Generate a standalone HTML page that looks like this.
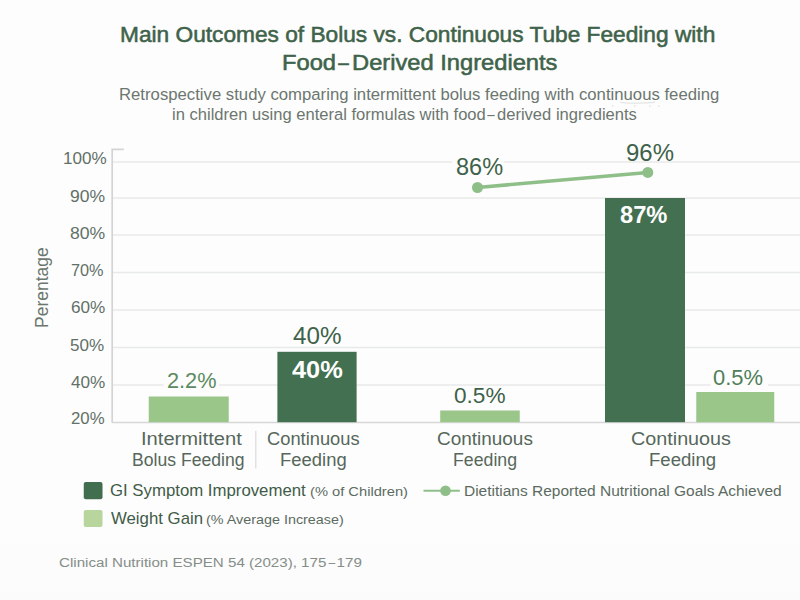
<!DOCTYPE html>
<html><head><meta charset="utf-8"><style>
html,body{margin:0;padding:0;}
body{width:800px;height:600px;overflow:hidden;position:relative;background:linear-gradient(to bottom,#fdfdfd 0%,#fdfdfd 85%,#fbfbfb 100%);font-family:"Liberation Sans",sans-serif;}
svg{position:absolute;left:0;top:0;}
.t{position:absolute;white-space:pre;line-height:1;transform-origin:0 0;}
.dash{display:inline-block;transform:scaleX(0.8);margin:0 0.06em}
</style></head><body>
<svg width="800" height="600" viewBox="0 0 800 600">
<line x1="113" y1="162" x2="800" y2="162" stroke="#e8e9e9" stroke-width="1.5"/>
<line x1="113" y1="198" x2="800" y2="198" stroke="#e8e9e9" stroke-width="1.5"/>
<line x1="113" y1="235" x2="800" y2="235" stroke="#e8e9e9" stroke-width="1.5"/>
<line x1="113" y1="272.5" x2="800" y2="272.5" stroke="#e8e9e9" stroke-width="1.5"/>
<line x1="113" y1="310" x2="800" y2="310" stroke="#e8e9e9" stroke-width="1.5"/>
<line x1="113" y1="347.5" x2="800" y2="347.5" stroke="#e8e9e9" stroke-width="1.5"/>
<line x1="113" y1="385" x2="800" y2="385" stroke="#e8e9e9" stroke-width="1.5"/>
<line x1="112" y1="422.5" x2="800" y2="422.5" stroke="#d6d7d6" stroke-width="1.6"/>
<path d="M123.8 149.3 H112.2 V423" fill="none" stroke="#d3d5d4" stroke-width="1.7"/>
<line x1="255.8" y1="431" x2="255.8" y2="468.5" stroke="#dcdedc" stroke-width="1.3"/>
<rect x="163.5" y="383" width="55.5" height="4" fill="#fdfdfc"/>
<rect x="452" y="160" width="52" height="4" fill="#fdfdfc"/>
<rect x="710.5" y="383" width="57.5" height="4" fill="#fdfdfc"/>
<rect x="148.75" y="396.5" width="80.0" height="25.69999999999999" fill="#9bc68a"/>
<rect x="277.4" y="351.8" width="79.20000000000005" height="70.39999999999998" fill="#427050"/>
<rect x="440.2" y="410.5" width="79.55000000000001" height="11.699999999999989" fill="#9bc68a"/>
<rect x="605" y="198" width="80" height="224.2" fill="#427050"/>
<rect x="696.25" y="392" width="78.0" height="30.19999999999999" fill="#9bc68a"/>
<line x1="477.5" y1="187.5" x2="647.8" y2="172.4" stroke="#8fbf88" stroke-width="3.5"/>
<circle cx="477.5" cy="187.5" r="5.5" fill="#8fbf88"/>
<circle cx="647.8" cy="172.4" r="5.5" fill="#8fbf88"/>
<path d="M620 102.3 Q637 104 655 102.4" fill="none" stroke="#d9dbd9" stroke-width="1.3" opacity="0.7"/>
<rect x="612" y="105.5" width="1.5" height="1" fill="#d8d8d8"/>
<rect x="634" y="105.5" width="1.5" height="1" fill="#d8d8d8"/>
<rect x="649" y="105.5" width="1.5" height="1" fill="#d8d8d8"/>
<rect x="658" y="105.5" width="1.5" height="1" fill="#d8d8d8"/>
<rect x="83.75" y="482" width="18.75" height="17.25" rx="2" fill="#416e4e"/>
<rect x="83.75" y="510" width="18.75" height="17" rx="2" fill="#b8d59d"/>
<line x1="423.5" y1="490.75" x2="459.8" y2="490.75" stroke="#8fbf88" stroke-width="2.0"/>
<circle cx="445.5" cy="490.75" r="5.3" fill="#8fbf88"/>
</svg>
<div class="t" id="t1" style="left:119.81px;top:24.00px;font-size:22.00px;transform:scaleX(1.0313);color:#3f634a;font-weight:normal;-webkit-text-stroke:0.55px #3f634a;">Main Outcomes of Bolus vs. Continuous Tube Feeding with</div>
<div class="t" id="t2" style="left:281.92px;top:52.00px;font-size:22.00px;transform:scaleX(1.0768);color:#3f634a;font-weight:normal;-webkit-text-stroke:0.55px #3f634a;">Food<span class=dash>–</span>Derived Ingredients</div>
<div class="t" id="s1" style="left:119.29px;top:86.00px;font-size:16.23px;transform:scaleX(1.0307);color:#6c766f;font-weight:normal;">Retrospective study comparing intermittent bolus feeding with continuous feeding</div>
<div class="t" id="s2" style="left:171.84px;top:106.00px;font-size:16.23px;transform:scaleX(1.0207);color:#6c766f;font-weight:normal;">in children using enteral formulas with food<span class=dash>–</span>derived ingredients</div>
<div class="t" id="y100" style="left:62.68px;top:150.00px;font-size:17.00px;transform:scaleX(1.0053);color:#627067;font-weight:normal;">100%</div>
<div class="t" id="y90" style="left:70.25px;top:188.00px;font-size:17.00px;transform:scaleX(1.0309);color:#627067;font-weight:normal;">90%</div>
<div class="t" id="y80" style="left:69.90px;top:225.00px;font-size:17.00px;transform:scaleX(1.0363);color:#627067;font-weight:normal;">80%</div>
<div class="t" id="y70" style="left:71.29px;top:262.00px;font-size:17.00px;transform:scaleX(0.9559);color:#627067;font-weight:normal;">70%</div>
<div class="t" id="y60" style="left:70.69px;top:299.00px;font-size:17.00px;transform:scaleX(1.0080);color:#627067;font-weight:normal;">60%</div>
<div class="t" id="y50" style="left:69.87px;top:337.00px;font-size:17.00px;transform:scaleX(1.0027);color:#627067;font-weight:normal;">50%</div>
<div class="t" id="y40" style="left:70.96px;top:374.00px;font-size:17.00px;transform:scaleX(1.0075);color:#627067;font-weight:normal;">40%</div>
<div class="t" id="y20" style="left:71.06px;top:410.00px;font-size:17.00px;transform:scaleX(0.9865);color:#627067;font-weight:normal;">20%</div>
<div class="t" id="v22" style="left:166.67px;top:370.00px;font-size:21.80px;transform:scaleX(0.9949);color:#5b8b60;font-weight:normal;">2.2%</div>
<div class="t" id="v40t" style="left:292.92px;top:325.00px;font-size:23.20px;transform:scaleX(1.0435);color:#3e6249;font-weight:normal;">40%</div>
<div class="t" id="v40w" style="left:292.04px;top:358.00px;font-size:24.60px;transform:scaleX(1.0319);color:#ffffff;font-weight:bold;">40%</div>
<div class="t" id="v05a" style="left:453.95px;top:385.00px;font-size:21.80px;transform:scaleX(1.0363);color:#3e6249;font-weight:normal;">0.5%</div>
<div class="t" id="v86" style="left:455.78px;top:156.00px;font-size:23.20px;transform:scaleX(1.0151);color:#3e6249;font-weight:normal;">86%</div>
<div class="t" id="v96" style="left:626.00px;top:142.00px;font-size:23.20px;transform:scaleX(1.0327);color:#3e6249;font-weight:normal;">96%</div>
<div class="t" id="v87" style="left:620.09px;top:203.00px;font-size:24.60px;transform:scaleX(0.9639);color:#ffffff;font-weight:bold;">87%</div>
<div class="t" id="v05b" style="left:713.22px;top:367.00px;font-size:21.80px;transform:scaleX(1.0050);color:#4f7f58;font-weight:normal;">0.5%</div>
<div class="t" id="x1a" style="left:140.69px;top:431.00px;font-size:17.60px;transform:scaleX(1.1456);color:#56675b;font-weight:normal;">Intermittent</div>
<div class="t" id="x1b" style="left:131.58px;top:452.00px;font-size:17.60px;transform:scaleX(1.0001);color:#56675b;font-weight:normal;">Bolus Feeding</div>
<div class="t" id="x2a" style="left:266.51px;top:431.00px;font-size:17.60px;transform:scaleX(1.0409);color:#56675b;font-weight:normal;">Continuous</div>
<div class="t" id="x2b" style="left:280.05px;top:452.00px;font-size:17.60px;transform:scaleX(1.0482);color:#56675b;font-weight:normal;">Feeding</div>
<div class="t" id="x3a" style="left:436.75px;top:431.00px;font-size:17.60px;transform:scaleX(1.0769);color:#56675b;font-weight:normal;">Continuous</div>
<div class="t" id="x3b" style="left:452.83px;top:452.00px;font-size:17.60px;transform:scaleX(1.0070);color:#56675b;font-weight:normal;">Feeding</div>
<div class="t" id="x4a" style="left:631.14px;top:431.00px;font-size:17.60px;transform:scaleX(1.1232);color:#56675b;font-weight:normal;">Continuous</div>
<div class="t" id="x4b" style="left:649.26px;top:452.00px;font-size:17.60px;transform:scaleX(1.0561);color:#56675b;font-weight:normal;">Feeding</div>
<div class="t" id="l1" style="left:110.41px;top:482.00px;font-size:17.00px;transform:scaleX(0.9865);color:#415b48;font-weight:normal;">GI Symptom Improvement</div>
<div class="t" id="l1p" style="left:310.02px;top:485.00px;font-size:13.50px;transform:scaleX(1.0879);color:#5c6b61;font-weight:normal;">(% of Children)</div>
<div class="t" id="l2" style="left:111.13px;top:510.00px;font-size:17.00px;transform:scaleX(0.9873);color:#415b48;font-weight:normal;">Weight Gain</div>
<div class="t" id="l2p" style="left:205.99px;top:513.00px;font-size:13.50px;transform:scaleX(1.0634);color:#5c6b61;font-weight:normal;">(% Average Increase)</div>
<div class="t" id="l3" style="left:463.94px;top:484.00px;font-size:14.35px;transform:scaleX(1.0797);color:#5c6b61;font-weight:normal;">Dietitians Reported Nutritional Goals Achieved</div>
<div class="t" id="f" style="left:59.49px;top:556.00px;font-size:13.70px;transform:scaleX(1.1051);color:#858d88;font-weight:normal;">Clinical Nutrition ESPEN 54 (2023), 175<span class=dash>–</span>179</div>
<div class="t" style="left:33.5px;top:327.5px;font-size:17.5px;color:#6a766e;transform-origin:0 0;transform:rotate(-90deg) scaleX(1.0);">Perentage</div>
</body></html>
